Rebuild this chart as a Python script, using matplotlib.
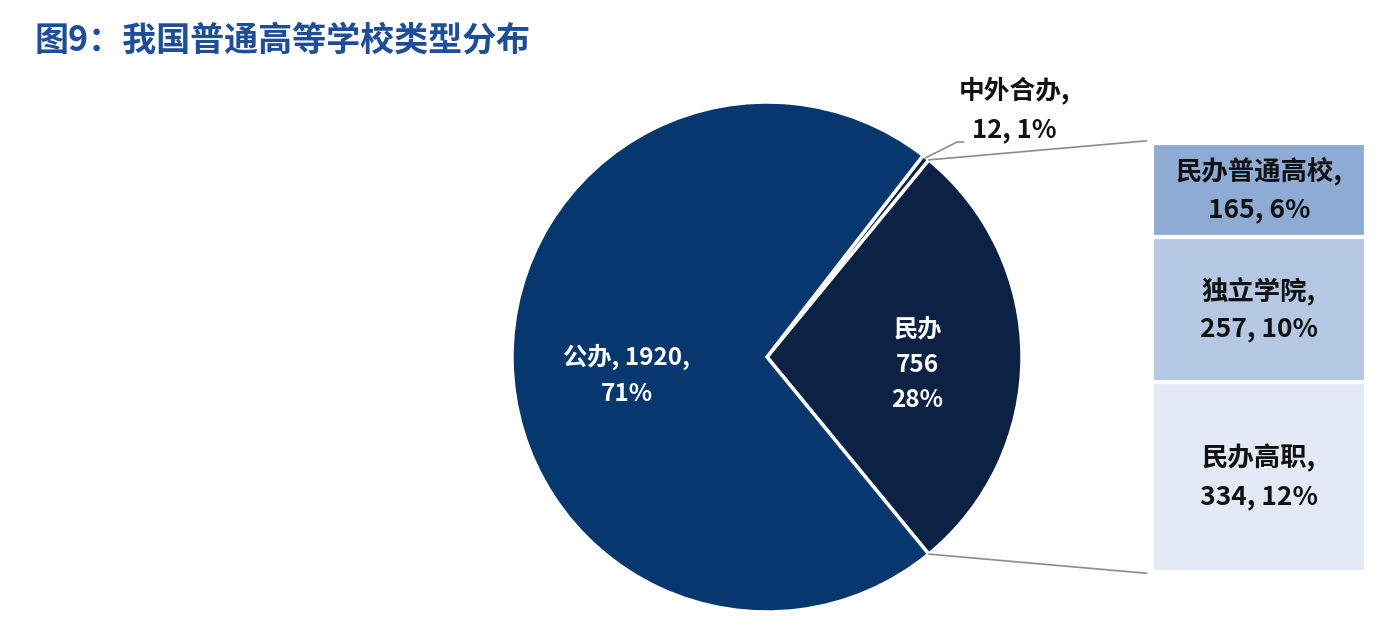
import matplotlib
matplotlib.use('Agg')
import matplotlib.pyplot as plt
from matplotlib.patches import ConnectionPatch
import numpy as np

plt.rcParams['font.family'] = ['Noto Sans CJK SC', 'DejaVu Sans']

title = '图9：我国普通高等学校类型分布'
pie_labels = ['民办', '中外合办', '公办']
pie_values = [756, 12, 1920]
pie_pcts = [28, 1, 71]
pie_colors = ['#0c2244', '#0c2244', '#07376f']
bar_labels = ['民办高职', '独立学院', '民办普通高校']
bar_values = [334, 257, 165]
bar_pcts = [12, 10, 6]
bar_colors = ['#e4eaf5', '#b4c7e3', '#8eabd4']

W, H = 1396, 634
fig = plt.figure(figsize=(W / 100, H / 100), dpi=100)
fig.patch.set_facecolor('white')

# ---- pie ----
cx, cy, r = 767, 357, 255
pad = 1.03
axp = fig.add_axes([(cx - r * pad) / W, (H - cy - r * pad) / H, 2 * r * pad / W, 2 * r * pad / H])
total = sum(pie_values)
start = -360 * pie_values[0] / total / 2
wedges, _ = axp.pie(pie_values, colors=pie_colors, startangle=start, counterclock=True,
                    wedgeprops=dict(edgecolor='white', linewidth=2.5))
axp.set_xlim(-pad, pad)
axp.set_ylim(-pad, pad)
axp.set_aspect('equal')
axp.axis('off')

txt_kw = dict(ha='center', va='center', fontweight='bold')
axp.text(-0.55, -0.07, f'{pie_labels[2]}, {pie_values[2]},\n{pie_pcts[2]}%',
         color='white', linespacing=1.65, fontsize=17.5, **txt_kw)
axp.text(0.59, -0.03, f'{pie_labels[0]}\n{pie_values[0]}\n{pie_pcts[0]}%',
         color='white', linespacing=1.6, fontsize=17.5, **txt_kw)
axp.text(0.97, 0.97, f'{pie_labels[1]},\n{pie_values[1]}, {pie_pcts[1]}%',
         color='#111111', linespacing=1.6, fontsize=18.5, **txt_kw)

# leader line for the tiny slice
mid = np.deg2rad(start + 360 * (pie_values[0] + pie_values[1] / 2) / total)
lx, ly = np.cos(mid), np.sin(mid)
axp.plot([lx, 0.745, 0.77], [ly, 0.843, 0.843], color='#8c8c8c', lw=1.2, clip_on=False)

# ---- stacked bar ----
bx0, bx1, by0, by1 = 1152, 1366, 143, 572
axb = fig.add_axes([bx0 / W, (H - by1) / H, (bx1 - bx0) / W, (by1 - by0) / H])
bottoms = np.concatenate([[0], np.cumsum(bar_values)[:-1]])
axb.bar([0] * len(bar_values), bar_values, bottom=bottoms, width=1.0,
        color=bar_colors, edgecolor='white', linewidth=3)
axb.set_xlim(-0.5, 0.5)
axb.set_ylim(0, sum(bar_values))
axb.axis('off')
for lab, v, p, b in zip(bar_labels, bar_values, bar_pcts, bottoms):
    axb.text(0, b + v / 2, f'{lab},\n{v}, {p}%', color='#111111', linespacing=1.5,
             fontsize=19, **txt_kw)

# ---- connector lines ----
a_top = np.deg2rad(start + 360 * pie_values[0] / total)
a_bot = np.deg2rad(start)
for ang, yb in [(a_top, 1.005), (a_bot, -0.003)]:
    con = ConnectionPatch(xyA=(np.cos(ang), np.sin(ang)), coordsA=axp.transData,
                          xyB=(-0.025, yb), coordsB=axb.transAxes,
                          color='#8c8c8c', lw=1.2)
    fig.add_artist(con)

fig.text(35 / W, 1 - 40 / H, title, fontsize=24.5, fontweight='heavy', color='#1f4e99',
         ha='left', va='center')

fig.savefig('out.png', dpi=100, facecolor='white')
